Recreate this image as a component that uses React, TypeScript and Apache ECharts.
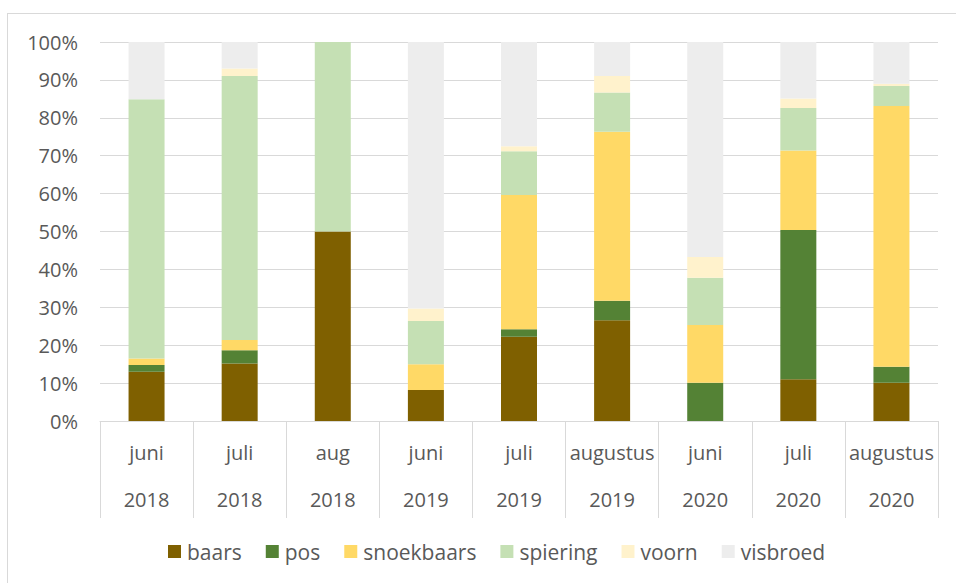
import React, { useEffect, useRef } from "react";
import * as echarts from "echarts";

// Sample periods: month and year shown as a two-level category label
const months = ["juni", "juli", "aug", "juni", "juli", "augustus", "juni", "juli", "augustus"];
const years = ["2018", "2018", "2018", "2019", "2019", "2019", "2020", "2020", "2020"];

// Share of each species per period (percent of catch)
const baars = [13.0, 15.2, 50.0, 8.2, 22.2, 26.6, 0, 11.0, 10.1];
const pos = [1.8, 3.5, 0, 0, 2.0, 5.1, 10.1, 39.4, 4.2];
const snoekbaars = [1.7, 2.7, 0, 6.8, 35.4, 44.6, 15.2, 21.0, 68.8];
const spiering = [68.4, 69.6, 50.0, 11.4, 11.6, 10.4, 12.5, 11.2, 5.3];
const voorn = [0, 2.0, 0, 3.3, 1.3, 4.3, 5.5, 2.5, 0.6];
const visbroed = [15.1, 7.0, 0, 70.3, 27.5, 9.0, 56.7, 14.9, 11.0];

const yTicks = [0, 10, 20, 30, 40, 50, 60, 70, 80, 90, 100];

const speciesSeries = [
  { name: "baars", data: baars, color: "#7f6000" },
  { name: "pos", data: pos, color: "#548235" },
  { name: "snoekbaars", data: snoekbaars, color: "#ffd966" },
  { name: "spiering", data: spiering, color: "#c5e0b4" },
  { name: "voorn", data: voorn, color: "#fff2cc" },
  { name: "visbroed", data: visbroed, color: "#ededed" },
];

const FONT = "'Open Sans', sans-serif";
const TEXT = "#595959";
const GRID = "#d9d9d9";

export default function App() {
  const ref = useRef<HTMLDivElement>(null);

  useEffect(() => {
    if (!ref.current) return;
    const chart = echarts.init(ref.current, undefined, { renderer: "svg" });
    const categories = months.map((m, i) => `${m}\n${years[i]}`);

    chart.setOption({
      animation: false,
      backgroundColor: "#ffffff",
      textStyle: { fontFamily: FONT, color: TEXT },
      grid: { left: 100, right: 18, top: 42, bottom: 162, containLabel: false },
      legend: {
        left: 163,
        top: 536,
        itemWidth: 13,
        itemHeight: 13,
        itemGap: 24,
        icon: "rect",
        textStyle: { fontFamily: FONT, fontSize: 21, color: TEXT, padding: [0, 0, 0, 1] },
        data: speciesSeries.map((s) => s.name),
      },
      xAxis: {
        type: "category",
        data: categories,
        axisLine: { show: true, lineStyle: { color: GRID, width: 1 } },
        axisTick: { show: true, length: 97, interval: 0, lineStyle: { color: GRID } },
        axisLabel: {
          interval: 0,
          margin: 8,
          fontFamily: FONT,
          fontSize: 20,
          color: TEXT,
          lineHeight: 47,
        },
      },
      yAxis: {
        type: "value",
        min: yTicks[0],
        max: yTicks[yTicks.length - 1],
        interval: 10,
        axisLine: { show: false },
        axisTick: { show: false },
        splitLine: { lineStyle: { color: GRID, width: 1 } },
        axisLabel: {
          margin: 22,
          fontFamily: FONT,
          fontSize: 20,
          color: TEXT,
          formatter: (v: number) => `${v}%`,
        },
      },
      series: speciesSeries.map((s) => ({
        name: s.name,
        type: "bar",
        stack: "total",
        barWidth: 36,
        data: s.data,
        itemStyle: { color: s.color },
        emphasis: { disabled: true },
      })),
      graphic: [
        {
          type: "line",
          shape: { x1: 7.5, y1: 13, x2: 7.5, y2: 583 },
          style: { stroke: GRID, lineWidth: 1 },
        },
        {
          type: "line",
          shape: { x1: 7, y1: 13.5, x2: 956, y2: 13.5 },
          style: { stroke: GRID, lineWidth: 1 },
        },
      ],
    });

    return () => chart.dispose();
  }, []);

  return (
    <div
      ref={ref}
      style={{ position: "absolute", left: 0, top: 0, width: 956, height: 583 }}
    />
  );
}
